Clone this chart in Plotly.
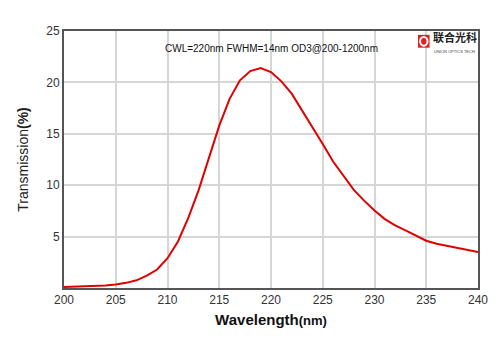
import plotly.graph_objects as go

wavelength = list(range(200, 241))
transmission = [0.1, 0.12, 0.15, 0.2, 0.25, 0.35, 0.5, 0.75, 1.2, 1.8,
                2.9, 4.5, 6.8, 9.5, 12.7, 15.8, 18.4, 20.2, 21.1, 21.4,
                21.0, 20.1, 18.9, 17.3, 15.6, 14.0, 12.3, 10.9, 9.55, 8.5,
                7.55, 6.7, 6.1, 5.6, 5.1, 4.6, 4.3, 4.1, 3.9, 3.65, 3.5]
x_ticks = [200, 205, 210, 215, 220, 225, 230, 235, 240]
y_ticks = [5, 10, 15, 20, 25]

fig = go.Figure()
fig.add_trace(go.Scatter(x=wavelength, y=transmission, mode="lines",
                         line=dict(color="#e00000", width=2), showlegend=False))

axis_common = dict(showgrid=True, gridcolor="#d6d6d6", gridwidth=1.5,
                   showline=True, linecolor="#555555", linewidth=2, mirror=True,
                   ticks="", zeroline=False,
                   tickfont=dict(family="Liberation Sans, Arial", size=12, color="#333333"))

fig.update_xaxes(range=[200, 240], tickvals=x_ticks, **axis_common,
                 title=dict(text="<b>Wavelength</b><b style='font-size:13px'>(nm)</b>",
                            font=dict(family="Liberation Sans, Arial", size=15, color="#111111"),
                            standoff=8))
fig.update_yaxes(range=[0, 25], tickvals=y_ticks, **axis_common,
                 title=dict(text="Transmission<b>(%)</b>",
                            font=dict(family="Liberation Sans, Arial", size=14, color="#222222"),
                            standoff=14))

fig.add_annotation(x=0.502, y=0.93, xref="paper", yref="paper", xanchor="center", yanchor="middle",
                   text="CWL=220nm FWHM=14nm OD3@200-1200nm", showarrow=False,
                   font=dict(family="Liberation Sans, Arial", size=10, color="#111111"))

# logo
fig.add_shape(type="rect", xref="paper", yref="paper", x0=0.855, x1=0.883, y0=0.935, y1=0.985,
              fillcolor="#e02020", line=dict(width=0), layer="above")
fig.add_shape(type="circle", xref="paper", yref="paper", x0=0.860, x1=0.878, y0=0.943, y1=0.977,
              fillcolor="#e02020", line=dict(color="white", width=2), layer="above")
fig.add_annotation(x=0.887, y=0.978, xref="paper", yref="paper", xanchor="left", yanchor="middle",
                   text="<b>联合光科</b>", showarrow=False,
                   font=dict(family="Noto Sans CJK SC", size=11, color="#222222"))
fig.add_annotation(x=0.889, y=0.922, xref="paper", yref="paper", xanchor="left", yanchor="middle",
                   text="UNION OPTICS TECH", showarrow=False,
                   font=dict(family="Liberation Sans, Arial", size=4, color="#444444"))

fig.update_layout(width=500, height=353, margin=dict(l=64, r=16, t=31, b=65),
                  paper_bgcolor="white", plot_bgcolor="white")

fig.write_html("out.html")
